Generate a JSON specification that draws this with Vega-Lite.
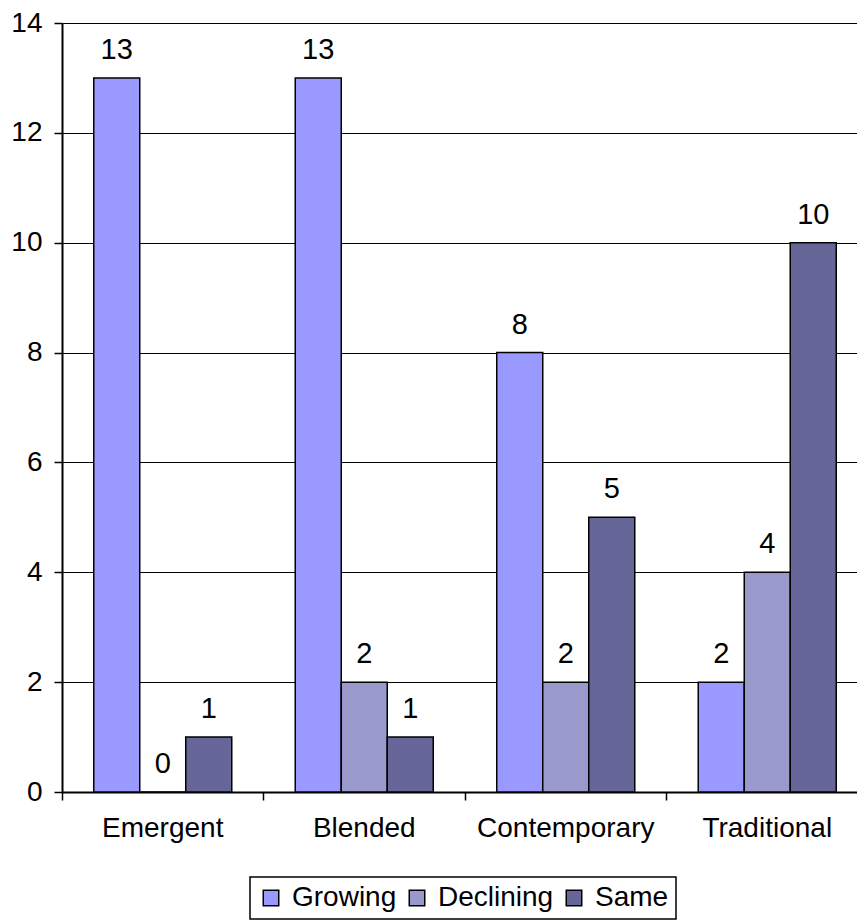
{
  "$schema": "https://vega.github.io/schema/vega-lite/v6.json",
  "width": 806,
  "height": 769,
  "autosize": {"type": "none"},
  "padding": {"left": 62, "top": 23, "right": 0, "bottom": 129},
  "background": "white",
  "config": {"view": {"stroke": null}, "font": "Liberation Sans", "legend": {"strokeWidth": 1.5}},
  "data": {
    "values": [
      {"style": "Emergent", "trend": "Growing", "count": 13},
      {"style": "Emergent", "trend": "Declining", "count": 0},
      {"style": "Emergent", "trend": "Same", "count": 1},
      {"style": "Blended", "trend": "Growing", "count": 13},
      {"style": "Blended", "trend": "Declining", "count": 2},
      {"style": "Blended", "trend": "Same", "count": 1},
      {"style": "Contemporary", "trend": "Growing", "count": 8},
      {"style": "Contemporary", "trend": "Declining", "count": 2},
      {"style": "Contemporary", "trend": "Same", "count": 5},
      {"style": "Traditional", "trend": "Growing", "count": 2},
      {"style": "Traditional", "trend": "Declining", "count": 4},
      {"style": "Traditional", "trend": "Same", "count": 10}
    ]
  },
  "encoding": {
    "x": {
      "field": "style",
      "type": "nominal",
      "sort": ["Emergent", "Blended", "Contemporary", "Traditional"],
      "scale": {"paddingInner": 0, "paddingOuter": 0},
      "axis": {
        "title": null,
        "labelAngle": 0,
        "tickSize": 8,
        "bandPosition": 0,
        "domainColor": "black",
        "domainWidth": 2,
        "tickColor": "black",
        "tickWidth": 1.5,
        "labelFontSize": 28,
        "labelFont": "Liberation Sans",
        "labelColor": "black",
        "labelPadding": 14,
        "grid": false
      }
    },
    "xOffset": {
      "field": "trend",
      "type": "nominal",
      "sort": ["Growing", "Declining", "Same"],
      "scale": {"paddingInner": 0, "paddingOuter": 0.69}
    },
    "y": {
      "field": "count",
      "type": "quantitative",
      "scale": {"domain": [0, 14]},
      "axis": {
        "title": null,
        "values": [0, 2, 4, 6, 8, 10, 12, 14],
        "grid": true,
        "gridColor": "black",
        "gridWidth": 1.2,
        "gridOpacity": 1,
        "tickSize": 8,
        "tickColor": "black",
        "tickWidth": 1.5,
        "domainColor": "black",
        "domainWidth": 2,
        "labelFontSize": 28,
        "labelFont": "Liberation Sans",
        "labelColor": "black",
        "labelPadding": 12
      }
    }
  },
  "layer": [
    {
      "mark": {"type": "bar", "stroke": "black", "strokeWidth": 1.5},
      "encoding": {
        "color": {
          "field": "trend",
          "type": "nominal",
          "sort": ["Growing", "Declining", "Same"],
          "scale": {
            "domain": ["Growing", "Declining", "Same"],
            "range": ["#9999FF", "#9999CC", "#666699"]
          },
          "legend": {
            "orient": "none",
            "legendX": 188,
            "legendY": 854,
            "direction": "horizontal",
            "title": null,
            "strokeColor": "black",
            "fillColor": "white",
            "padding": 7,
            "symbolType": "square",
            "symbolSize": 240,
            "symbolStrokeColor": "black",
            "symbolStrokeWidth": 1.5,
            "symbolOpacity": 1,
            "labelFontSize": 28,
            "labelFont": "Liberation Sans",
            "labelColor": "black",
            "labelOffset": 7,
            "columnPadding": 6
          }
        }
      }
    },
    {
      "mark": {
        "type": "text",
        "dy": -19,
        "baseline": "alphabetic",
        "fontSize": 29,
        "font": "Liberation Sans",
        "color": "black"
      },
      "encoding": {"text": {"field": "count", "type": "quantitative"}}
    }
  ]
}
